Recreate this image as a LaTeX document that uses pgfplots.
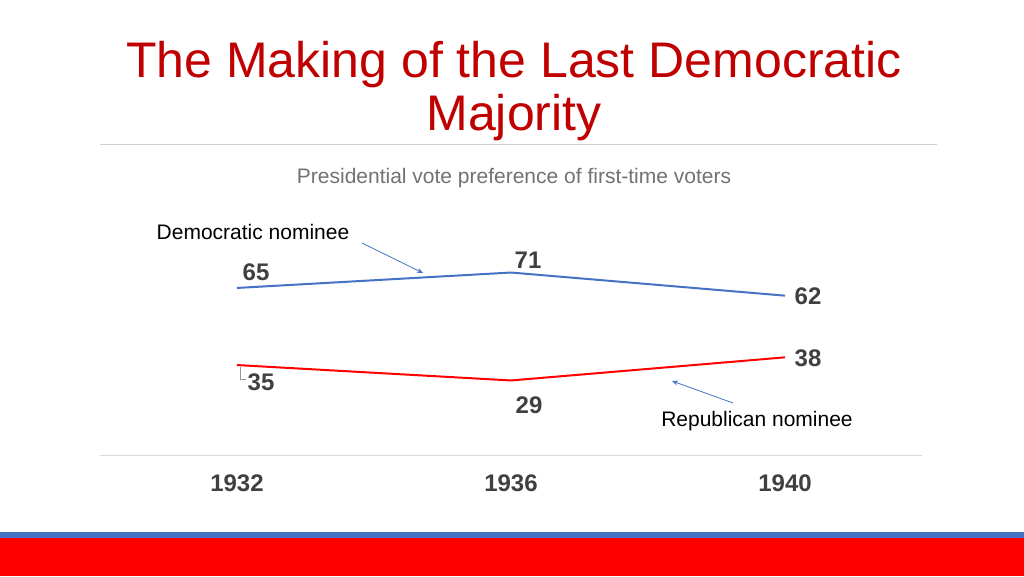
\documentclass[border=0pt]{standalone}
\usepackage{pgfplots}
\pgfplotsset{compat=1.18}
\usetikzlibrary{arrows.meta}
\usepackage{fontspec}
\setmainfont{Liberation Sans}
\definecolor{titlered}{HTML}{C00000}
\definecolor{demblue}{HTML}{4472C4}
\definecolor{repred}{HTML}{FF0000}
\definecolor{lblgray}{HTML}{404040}
\definecolor{subgray}{HTML}{767171}
\begin{document}
\begin{tikzpicture}[x=1pt,y=1pt]
\path[use as bounding box] (0,0) rectangle (1024,576);
\fill[white] (0,0) rectangle (1024,576);
\fill[repred] (0,0) rectangle (1024,38);
\fill[demblue] (0,38) rectangle (1024,44);
% title
\node[anchor=base, text=titlered, font=\fontsize{50}{56}\selectfont] at (514,498) {The Making of the Last Democratic};
\node[anchor=base, text=titlered, font=\fontsize{50}{56}\selectfont] at (514,445) {Majority};
\draw[black!18, line width=1pt] (100,431) -- (937,431);
\node[anchor=base, text=subgray, font=\fontsize{21}{24}\selectfont] at (514,392) {Presidential vote preference of first-time voters};
\begin{axis}[
  at={(100pt,121pt)}, anchor=south west,
  scale only axis, width=822pt, height=257pt,
  xmin=-0.5, xmax=2.5, ymin=0, ymax=100,
  axis x line*=bottom, axis y line=none,
  x axis line style={draw=black!15, line width=1pt, -},
  xtick={0,1,2}, xticklabels={1932,1936,1940},
  major tick length=0pt,
  xticklabel style={font=\fontsize{24}{24}\selectfont\bfseries, text=lblgray, yshift=-16pt},
  clip=false,
]
\addplot[demblue, line width=2pt] coordinates {(0,65) (1,71) (2,62)};
\addplot[repred, line width=2pt] coordinates {(0,35) (1,29) (2,38)};
\begin{scope}[every node/.style={font=\fontsize{24}{24}\selectfont\bfseries, text=lblgray}]
\node[xshift=19pt, yshift=16pt] at (axis cs:0,65) {65};
\node[xshift=17pt, yshift=12pt] at (axis cs:1,71) {71};
\node[xshift=23pt, yshift=-1pt] at (axis cs:2,62) {62};
\node[xshift=24pt, yshift=-17pt] at (axis cs:0,35) {35};
\node[xshift=18pt, yshift=-25pt] at (axis cs:1,29) {29};
\node[xshift=23pt, yshift=-1pt] at (axis cs:2,38) {38};
\end{scope}
\end{axis}
% annotations
\node[font=\fontsize{21}{24}\selectfont] at (253,344) {Democratic nominee};
\draw[demblue, line width=0.8pt, -{Stealth[length=6pt,width=5pt]}] (362,333) -- (423,303);
\node[font=\fontsize{21}{24}\selectfont] at (757,155) {Republican nominee};
\draw[demblue, line width=0.8pt, -{Stealth[length=6pt,width=5pt]}] (733,173) -- (672,195);
\draw[black!40, line width=0.6pt] (240,209) -- (240,197) -- (246,197);
\end{tikzpicture}
\end{document}
